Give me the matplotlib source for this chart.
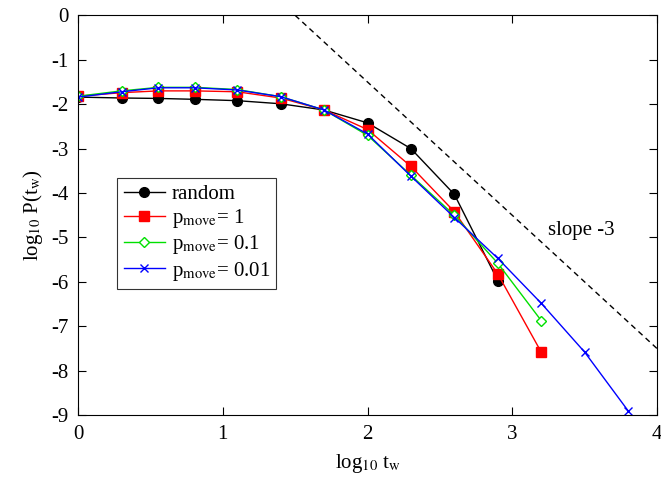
import matplotlib
matplotlib.use("Agg")
import matplotlib.pyplot as plt
import numpy as np

x = [0, 0.301, 0.556, 0.806, 1.1, 1.4, 1.7, 2.0, 2.3, 2.6, 2.9, 3.2, 3.5, 3.8]
y_random = [-1.84, -1.86, -1.87, -1.89, -1.92, -1.99, -2.13, -2.42, -3.0, -4.03, -5.97]
y_p1 = [-1.82, -1.74, -1.70, -1.70, -1.72, -1.86, -2.13, -2.57, -3.40, -4.42, -5.82, -7.58]
y_p01 = [-1.82, -1.70, -1.62, -1.62, -1.67, -1.83, -2.13, -2.70, -3.60, -4.50, -5.58, -6.87]
y_p001 = [-1.84, -1.72, -1.63, -1.63, -1.68, -1.83, -2.13, -2.67, -3.62, -4.55, -5.47, -6.48, -7.58, -8.90]
slope_x = [1.5, 4.0]
slope_y = [0.0, -7.5]

plt.rcParams['font.family'] = ['Liberation Serif', 'DejaVu Serif']
plt.rcParams['mathtext.fontset'] = 'stix'
fig = plt.figure(figsize=(6.61, 4.8), dpi=100)
ax = fig.add_axes([0.118, 0.135, 0.876, 0.833])
ax.plot(slope_x, slope_y, 'k--', lw=1, dashes=(4, 3))
ax.plot(x[:len(y_random)], y_random, '-o', color='black', mfc='black', ms=7, lw=1, label='random')
ax.plot(x[:len(y_p1)], y_p1, '-s', color='red', ms=6.5, lw=1, label=r'p$_{\rm move}$= 1')
ax.plot(x[:len(y_p01)], y_p01, '-D', color='#00e000', mfc='white', ms=5, lw=1, label=r'p$_{\rm move}$= 0.1')
ax.plot(x[:len(y_p001)], y_p001, '-x', color='blue', ms=6, lw=1, label=r'p$_{\rm move}$= 0.01')
ax.text(3.25, -4.95, 'slope -3', fontsize=15)
ax.set_xlim(0, 4)
ax.set_ylim(-9, 0)
ax.set_xticks([0, 1, 2, 3, 4])
ax.set_yticks(range(-9, 1))
ax.set_yticklabels([str(v) for v in range(-9, 1)])
ax.tick_params(labelsize=15, direction='in', length=6, top=True, right=True, pad=7)
ax.set_xlabel(r'log$_{10}$ t$_{\rm w}$', fontsize=15, labelpad=6)
ax.set_ylabel(r'log$_{10}$ P(t$_{\rm w}$)', fontsize=15)
leg = ax.legend(loc='lower left', bbox_to_anchor=(0.05, 0.29), fontsize=15, fancybox=False,
                edgecolor='black', handlelength=2, borderpad=0.3, labelspacing=0.15, handletextpad=0.3)
leg.get_frame().set_linewidth(0.8)
fig.savefig('out.png', dpi=100)
